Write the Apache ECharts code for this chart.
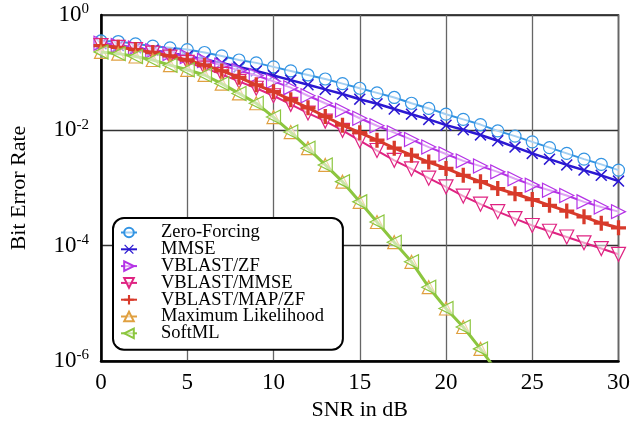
<!DOCTYPE html>
<html><head><meta charset="utf-8">
<script src="https://cdn.jsdelivr.net/npm/echarts@6/dist/echarts.min.js"></script>
<style>html,body{margin:0;padding:0;background:#fff}#c{width:633px;height:428px}</style>
</head><body><div id="c"></div><script>
// SNR in dB (x values)
const snr = [0,1,2,3,4,5,6,7,8,9,10,11,12,13,14,15,16,17,18,19,20,21,22,23,24,25,26,27,28,29,30];
// Bit error rates, stored as log10(BER)
const zfLog = [-0.45,-0.46,-0.50,-0.54,-0.57,-0.60,-0.65,-0.71,-0.78,-0.83,-0.90,-0.97,-1.04,-1.11,-1.19,-1.27,-1.35,-1.43,-1.53,-1.62,-1.72,-1.81,-1.90,-2.01,-2.10,-2.20,-2.30,-2.40,-2.50,-2.59,-2.69];
const mmseLog = [-0.50,-0.53,-0.57,-0.61,-0.66,-0.71,-0.77,-0.83,-0.90,-0.97,-1.05,-1.13,-1.21,-1.29,-1.37,-1.46,-1.54,-1.63,-1.72,-1.81,-1.91,-1.99,-2.08,-2.18,-2.29,-2.40,-2.50,-2.60,-2.69,-2.78,-2.88];
const vblastZfLog = [-0.49,-0.53,-0.57,-0.62,-0.67,-0.72,-0.79,-0.87,-0.96,-1.05,-1.15,-1.26,-1.40,-1.53,-1.65,-1.79,-1.92,-2.04,-2.16,-2.29,-2.41,-2.53,-2.62,-2.72,-2.84,-2.95,-3.04,-3.13,-3.24,-3.33,-3.41];
const vblastMmseLog = [-0.53,-0.56,-0.60,-0.66,-0.73,-0.82,-0.92,-1.03,-1.15,-1.27,-1.40,-1.55,-1.70,-1.84,-2.00,-2.18,-2.35,-2.52,-2.67,-2.83,-2.98,-3.14,-3.28,-3.41,-3.53,-3.65,-3.75,-3.85,-3.95,-4.05,-4.15];
const vblastMapZfLog = [-0.53,-0.56,-0.60,-0.65,-0.71,-0.78,-0.87,-0.97,-1.08,-1.21,-1.33,-1.47,-1.61,-1.76,-1.91,-2.04,-2.17,-2.31,-2.43,-2.55,-2.66,-2.78,-2.89,-3.01,-3.10,-3.20,-3.30,-3.40,-3.50,-3.61,-3.69];
const mlLog = [-0.64,-0.67,-0.72,-0.78,-0.87,-0.95,-1.04,-1.19,-1.36,-1.53,-1.77,-2.03,-2.31,-2.60,-2.89,-3.24,-3.59,-3.94,-4.28,-4.72,-5.09,-5.41,-5.79,-6.20];
const softMlLog = [-0.64,-0.67,-0.72,-0.78,-0.87,-0.95,-1.04,-1.19,-1.36,-1.53,-1.77,-2.03,-2.31,-2.60,-2.89,-3.24,-3.59,-3.94,-4.28,-4.72,-5.09,-5.41,-5.79,-6.20];
const seriesNames = ['Zero-Forcing','MMSE','VBLAST/ZF','VBLAST/MMSE','VBLAST/MAP/ZF','Maximum Likelihood','SoftML'];
const xTicks = [0,5,10,15,20,25,30];

const FONT = '"Liberation Serif", "Times New Roman", serif';
const toData = arr => arr.map((v, i) => [snr[i], Math.pow(10, v)]);
const X_PATH = 'path://M0,0.9L0.9,0L5,4.1L9.1,0L10,0.9L5.9,5L10,9.1L9.1,10L5,5.9L0.9,10L0,9.1L4.1,5Z';
const PLUS_PATH = 'path://M3.9,0H6.1V3.9H10V6.1H6.1V10H3.9V6.1H0V3.9H3.9Z';
const fillW = 'rgba(255,255,255,0.55)';

function mk(name, logs, color, lineW, symbol, size, rotate, filled, z) {
  return {
    name, type: 'line', data: toData(logs), z: z,
    symbol, symbolSize: size, symbolRotate: rotate, showAllSymbol: true,
    clip: true, animation: false,
    lineStyle: { color, width: lineW },
    itemStyle: filled ? { color, borderWidth: 0 } : { color: fillW, borderColor: color, borderWidth: 1.2 }
  };
}

const chart = echarts.init(document.getElementById('c'), null, { renderer: 'canvas' });
chart.setOption({
  animation: false,
  backgroundColor: '#fff',
  grid: { left: 101, right: 12, top: 15, bottom: 67, show: true, borderColor: '#111', borderWidth: 1.5 },
  xAxis: {
    type: 'value', min: 0, max: 30, interval: 5,
    name: 'SNR in dB', nameLocation: 'middle', nameGap: 38,
    nameTextStyle: { fontFamily: FONT, fontSize: 22, color: '#000' },
    axisLine: { lineStyle: { color: '#000', width: 2.5 } },
    axisTick: { show: false },
    axisLabel: { fontFamily: FONT, fontSize: 23, color: '#000', margin: 10,
      formatter: v => xTicks.includes(v) ? String(v) : '' },
    splitLine: { show: true, lineStyle: { color: '#666', width: 1.3 } }
  },
  yAxis: {
    type: 'log', logBase: 10, min: 1e-6, max: 1, interval: 2, splitNumber: 3,
    name: 'Bit Error Rate', nameLocation: 'middle', nameGap: 71,
    nameTextStyle: { fontFamily: FONT, fontSize: 22, color: '#000' },
    axisLine: { lineStyle: { color: '#000', width: 2.5 } },
    axisTick: { show: false },
    minorTick: { show: false },
    axisLabel: {
      margin: 12, color: '#000',
      formatter: v => '{b|10}{s|' + Math.round(Math.log10(v)) + '}',
      rich: {
        b: { fontFamily: FONT, fontSize: 23, color: '#000' },
        s: { fontFamily: FONT, fontSize: 15, color: '#000', padding: [0, 0, 11, 0] }
      }
    },
    splitLine: { show: true, lineStyle: { color: '#333', width: 1.3 } }
  },
  legend: {
    orient: 'vertical', left: 113, top: 218,
    padding: [5, 19, 7, 7], itemGap: -2.2, itemWidth: 16, itemHeight: 12,
    backgroundColor: '#fff', borderColor: '#000', borderWidth: 2, borderRadius: 11,
    textStyle: { fontFamily: FONT, fontSize: 18.5, lineHeight: 17, color: '#000', padding: [0, 0, 0, 19] },
    data: seriesNames, z: 10
  },
  series: [
    mk(seriesNames[0], zfLog, '#3394e3', 2, 'circle', 12, 0, false, 2),
    mk(seriesNames[1], mmseLog, '#2b18d2', 2.5, X_PATH, 12, 0, true, 3),
    mk(seriesNames[2], vblastZfLog, '#b533e6', 2, 'triangle', 14, -90, false, 4),
    mk(seriesNames[3], vblastMmseLog, '#df2382', 2, 'triangle', 14, 180, false, 5),
    mk(seriesNames[4], vblastMapZfLog, '#d83a2b', 3, PLUS_PATH, 15, 0, true, 6),
    mk(seriesNames[5], mlLog, '#e0a040', 1.5, 'triangle', 13, 0, false, 7),
    mk(seriesNames[6], softMlLog, '#8cc63f', 3, 'triangle', 14, 90, false, 8)
  ]
});
</script></body></html>
